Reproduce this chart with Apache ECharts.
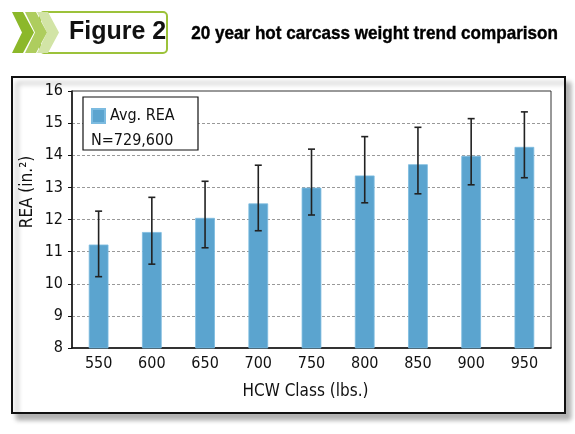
<!DOCTYPE html>
<html>
<head>
<meta charset="utf-8">
<script src="https://cdn.jsdelivr.net/npm/echarts@6/dist/echarts.min.js"></script>
<style>
  html, body { margin: 0; padding: 0; background: #fff; }
  #chart { width: 575px; height: 434px; }
</style>
</head>
<body>
<div id="chart"></div>
<script>
var categories = ['550', '600', '650', '700', '750', '800', '850', '900', '950'];
var avgRea = [11.22, 11.61, 12.05, 12.50, 12.99, 13.37, 13.72, 13.98, 14.26];
var errLow = [10.22, 10.61, 11.12, 11.65, 12.14, 12.52, 12.80, 13.08, 13.30];
var errHigh = [12.26, 12.69, 13.19, 13.69, 14.19, 14.58, 14.87, 15.14, 15.35];

var condFont = '"Liberation Sans Narrow", "DejaVu Sans Condensed", "Liberation Sans", sans-serif';

var errData = [];
for (var i = 0; i < categories.length; i++) {
  errData.push([i, errLow[i], errHigh[i]]);
}

// chevron shape for the header
function chevron(x) {
  return [[x, 12], [x + 11, 12], [x + 22, 32.5], [x + 11, 53], [x, 53], [x + 10, 32.5]];
}

var chartDom = document.getElementById('chart');
var myChart = echarts.init(chartDom);
var option;

option = {
  animation: false,
  graphic: [
    // outer frame with shadow
    {
      type: 'rect', z: -10,
      shape: { x: 12, y: 77, width: 553, height: 336 },
      style: { fill: '#fff', stroke: '#111', lineWidth: 2, shadowColor: 'rgba(0,0,0,0.3)', shadowBlur: 5, shadowOffsetX: 5, shadowOffsetY: 6 }
    },
    // header box
    {
      type: 'rect', z: 1,
      shape: { x: 40, y: 12, width: 127, height: 41, r: 4 },
      style: { fill: '#fff', stroke: '#9cc23a', lineWidth: 2 }
    },
    { type: 'polygon', z: 2, shape: { points: chevron(37) }, style: { fill: '#d2e4a6' } },
    { type: 'polygon', z: 3, shape: { points: chevron(25) }, style: { fill: '#aecd5e' } },
    { type: 'polygon', z: 4, shape: { points: chevron(12) }, style: { fill: '#8cb82a' } },
    {
      type: 'text', z: 5, left: 69, top: 20,
      style: { text: 'Figure 2', font: 'bold 25px "Liberation Sans", Arial, sans-serif', fill: '#111' }
    },
    {
      type: 'text', z: 5, left: 191, top: 24, scaleX: 0.9,
      style: { text: '20 year hot carcass weight trend comparison', font: 'bold 19px "Liberation Sans", Arial, sans-serif', fill: '#000', stroke: '#000', lineWidth: 0.4 }
    },
    // y axis title (sits above the middle in the original)
    {
      type: 'text', z: 5, x: 28, y: 192, rotation: Math.PI / 2,
      style: { text: 'REA (in.²)', font: '17px ' + condFont, fill: '#111', align: 'center', verticalAlign: 'middle' }
    },
    // legend box
    {
      type: 'rect', z: 20,
      shape: { x: 83, y: 97, width: 115, height: 53 },
      style: { fill: '#fff', stroke: '#111', lineWidth: 1.2 }
    },
    {
      type: 'text', z: 21, left: 91, top: 133,
      style: { text: 'N=729,600', font: '16px ' + condFont, fill: '#111' }
    }
  ],
  legend: {
    z: 22,
    left: 86,
    top: 103,
    icon: 'rect',
    itemWidth: 13,
    itemHeight: 14,
    textStyle: { fontSize: 16, fontFamily: condFont, color: '#111' },
    data: ['Avg. REA']
  },
  grid: {
    left: 72,
    top: 91,
    right: 24,
    bottom: 86,
    show: true,
    borderColor: '#333',
    borderWidth: 1
  },
  xAxis: {
    type: 'category',
    data: categories,
    name: 'HCW Class (lbs.)',
    nameLocation: 'middle',
    nameGap: 35,
    nameTextStyle: { fontSize: 17, fontFamily: condFont, color: '#111', padding: [0, 12, 0, 0] },
    axisLine: { lineStyle: { color: '#111', width: 1.5 } },
    axisTick: { show: false },
    axisLabel: { margin: 8, fontSize: 16, fontFamily: condFont, color: '#111' }
  },
  yAxis: {
    type: 'value',
    min: 8,
    max: 16,
    interval: 1,
    axisLine: { show: true, lineStyle: { color: '#111', width: 1.5 } },
    axisTick: { show: true, length: 4, lineStyle: { color: '#111' } },
    axisLabel: { margin: 9, fontSize: 16, fontFamily: condFont, color: '#111' },
    splitLine: { lineStyle: { color: '#999', type: [3, 2], width: 1 } }
  },
  series: [
    {
      name: 'Avg. REA',
      type: 'bar',
      data: avgRea,
      barWidth: '37%',
      itemStyle: { color: '#5ba4cf', borderColor: '#7cbbe0', borderWidth: 0.8 }
    },
    {
      name: 'error',
      type: 'custom',
      data: errData,
      encode: { x: 0, y: [1, 2] },
      z: 10,
      renderItem: function (params, api) {
        var x = api.value(0);
        var lo = api.coord([x, api.value(1)]);
        var hi = api.coord([x, api.value(2)]);
        var cap = 3.5;
        var st = { stroke: '#222', lineWidth: 1.6 };
        return {
          type: 'group',
          children: [
            { type: 'line', shape: { x1: hi[0], y1: hi[1], x2: lo[0], y2: lo[1] }, style: st },
            { type: 'line', shape: { x1: hi[0] - cap, y1: hi[1], x2: hi[0] + cap, y2: hi[1] }, style: st },
            { type: 'line', shape: { x1: lo[0] - cap, y1: lo[1], x2: lo[0] + cap, y2: lo[1] }, style: st }
          ]
        };
      }
    }
  ]
};

option && myChart.setOption(option);
</script>
</body>
</html>
